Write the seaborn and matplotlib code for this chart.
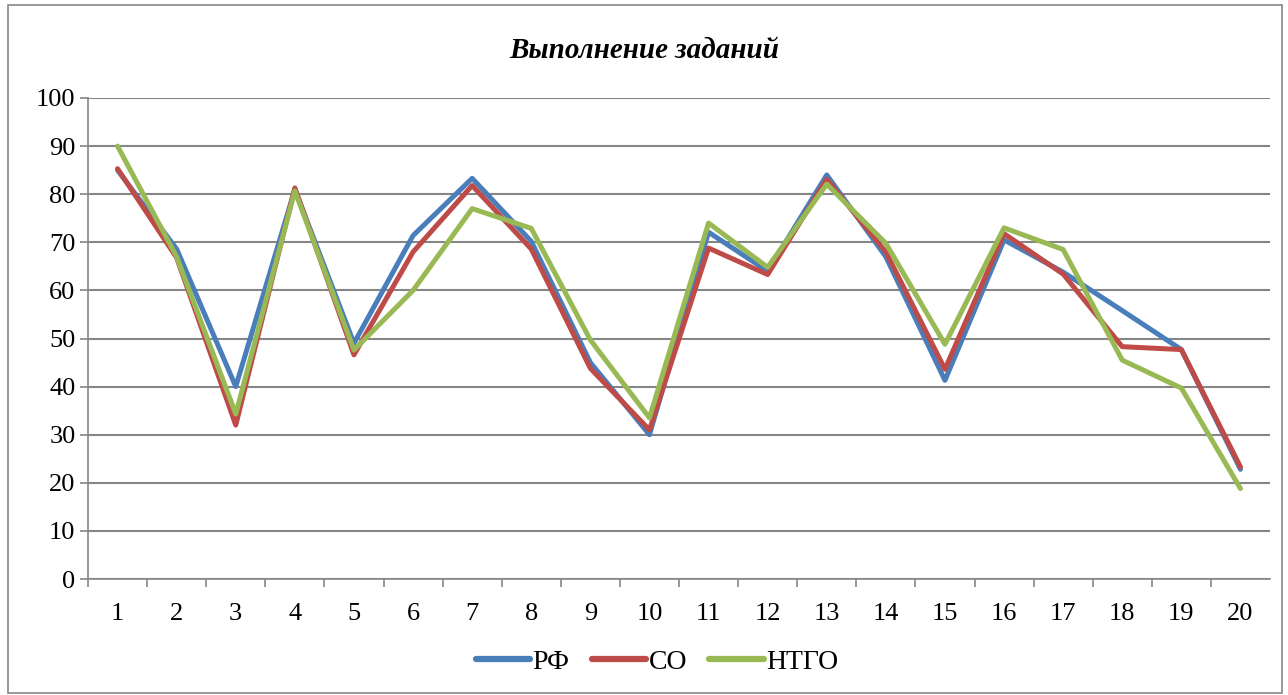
import matplotlib
matplotlib.use("Agg")
import matplotlib.pyplot as plt
import matplotlib.patches as mpatches
import seaborn as sns
import pandas as pd

tasks = list(range(1, 21))
rf = [85, 68.6, 40, 81, 49, 71.4, 83.3, 70.2, 45, 30, 72.1, 64, 84, 67, 41.3, 70.5, 63.8, 55.8, 47.7, 22.8]
so = [85.3, 66.8, 32, 81.3, 46.6, 68, 81.8, 68.6, 43.8, 31, 68.8, 63.3, 83.1, 68, 43.6, 71.8, 63.4, 48.3, 47.7, 23.3]
ntgo = [90, 67, 34.3, 80.7, 47.6, 60, 77, 72.9, 49.7, 33.5, 74, 64.8, 82.1, 69.8, 48.8, 73, 68.5, 45.5, 39.7, 18.8]
series = ["РФ", "СО", "НТГО"]
colors = ["#4A7EBB", "#BE4B48", "#98B954"]
title = "Выполнение заданий"

df = pd.DataFrame({
    "task": tasks * 3,
    "value": rf + so + ntgo,
    "series": [s for s in series for _ in tasks],
})

sns.set_theme(style="white")
plt.rcParams["font.family"] = ["Liberation Serif", "DejaVu Serif"]
plt.rcParams["text.color"] = "black"

fig = plt.figure(figsize=(12.88, 6.95), dpi=100)
ax = fig.add_axes([88 / 1288, 1 - 579 / 695, (1270 - 88) / 1288, (579 - 98) / 695])

# outer chart border
fig.patches.append(mpatches.Rectangle((8 / 1288, 2 / 695), 1274 / 1288, 688 / 695,
                                      transform=fig.transFigure, fill=False,
                                      edgecolor="#868686", linewidth=1.2))

sns.lineplot(data=df, x="task", y="value", hue="series", palette=colors,
             linewidth=3.6, ax=ax, legend=True)
for ln in ax.lines:
    ln.set_solid_joinstyle("round")
    ln.set_solid_capstyle("round")

ax.set_xlim(0.5, 20.5)
ax.set_ylim(0, 100)
ax.set_yticks(range(0, 101, 10))
ax.set_xticks(tasks)
ax.set_xticks([t + 0.5 for t in range(0, 20)], minor=True)
ax.tick_params(axis="x", which="major", length=0, labelsize=19, pad=17, labelcolor="black")
ax.tick_params(axis="x", which="minor", length=6, width=1.2, color="#868686", direction="out", bottom=True)
ax.tick_params(axis="y", which="major", length=6, width=1.2, color="#868686", direction="out",
               left=True, labelsize=19, pad=3, labelcolor="black")
ax.yaxis.grid(True, color="#868686", linewidth=1.5)
ax.set_axisbelow(True)
for side in ["top", "right"]:
    ax.spines[side].set_visible(False)
for side in ["left", "bottom"]:
    ax.spines[side].set_color("#868686")
    ax.spines[side].set_linewidth(1.2)
ax.set_xlabel("")
ax.set_ylabel("")

fig.text(0.5, 1 - 50 / 695, title, ha="center", va="center", fontsize=21,
         fontweight="bold", fontstyle="italic", color="black")

handles, labels = ax.get_legend_handles_labels()
for h in handles:
    h.set_linewidth(4.5)
ax.legend(handles, labels, loc="center", bbox_to_anchor=(657 / 1288, 1 - 662 / 695),
          bbox_transform=fig.transFigure, ncol=3, frameon=False, fontsize=20,
          handlelength=1.95, handletextpad=0.1, columnspacing=0.8)

fig.savefig("out.png", dpi=100)
